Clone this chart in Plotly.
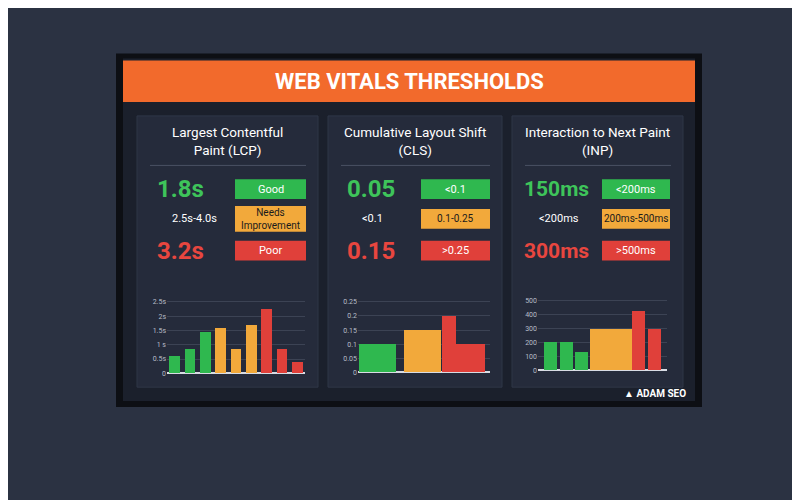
import plotly.graph_objects as go

W, H = 800, 500
OFF = 8  # page body margin

# bar chart data
lcp_vals = [0.6, 0.85, 1.45, 1.6, 0.85, 1.7, 2.25, 0.85, 0.4]
lcp_cols = ["g", "g", "g", "o", "o", "o", "r", "r", "r"]
cls_vals = [0.1, 0.15, 0.2, 0.1]
cls_cols = ["g", "o", "r", "r"]
inp_vals = [200, 200, 135, 300, 425, 300]
inp_cols = ["g", "g", "g", "o", "r", "r"]

# threshold rows
lcp_rows = ["1.8s", "2.5s-4.0s", "3.2s"]
lcp_badges = ["Good", "Needs<br>Improvement", "Poor"]
cls_rows = ["0.05", "<0.1", "0.15"]
cls_badges = ["<0.1", "0.1-0.25", ">0.25"]
inp_rows = ["150ms", "<200ms", "300ms"]
inp_badges = ["<200ms", "200ms-500ms", ">500ms"]

COL = {"g": "#2fb84f", "o": "#f2a93b", "r": "#e0403a"}
TXT = {"g": "#3ec45a", "o": "#ffffff", "r": "#e8463f"}


def px(x):
    return (x - OFF) / W


def py(y):
    return 1 - (y - OFF) / H


fig = go.Figure()
shapes = []
ann = []


def rect(x0, y0, x1, y1, color, line=None, lw=0):
    shapes.append(dict(type="rect", xref="paper", yref="paper",
                       x0=px(x0), x1=px(x1), y0=py(y1), y1=py(y0),
                       fillcolor=color, line=dict(color=line or color, width=lw),
                       layer="below"))


def text(x, y, s, size, color="#ffffff", anchor="center", bold=False, family="Roboto"):
    if bold:
        s = "<b>" + s + "</b>"
    ann.append(dict(x=px(x), y=py(y), xref="paper", yref="paper", text=s,
                    showarrow=False, xanchor=anchor, yanchor="middle",
                    font=dict(size=size, color=color, family=family)))


# wall + monitor
rect(0, 0, 820, 520, "#2b3242")
rect(116, 53, 702, 410, "#0d0f14")
rect(123, 58, 695, 404, "#1b202c")
rect(123, 60, 695, 102, "#f26a2c")
text(409, 81, "WEB VITALS THRESHOLDS", 22, "#ffffff", bold=True)

panels = [(137, 318), (328, 502), (512, 683)]
titles = ["Largest Contentful<br>Paint (LCP)", "Cumulative Layout Shift<br>(CLS)",
          "Interaction to Next Paint<br>(INP)"]
rows = [lcp_rows, cls_rows, inp_rows]
badges = [lcp_badges, cls_badges, inp_badges]
badge_x = [(235, 306), (421, 490), (602, 670)]
val_x = [155, 345, 522]
val_size = [24, 24, 21]
keys = ["g", "o", "r"]
row_y = [190, 220, 252]

for i, (x0, x1) in enumerate(panels):
    shapes.append(dict(type="rect", xref="paper", yref="paper",
                       x0=px(x0), x1=px(x1), y0=py(390), y1=py(116),
                       fillcolor="#252b3b", line=dict(color="#2f3647", width=1),
                       layer="below"))
    text((x0 + x1) / 2, 141, titles[i], 13.5)
    shapes.append(dict(type="line", xref="paper", yref="paper",
                       x0=px(x0 + 13), x1=px(x1 - 12), y0=py(166), y1=py(166),
                       line=dict(color="#4a5163", width=1)))
    bx0, bx1 = badge_x[i]
    for j, k in enumerate(keys):
        hgt = 13 if j == 1 and i == 0 else 10
        rect(bx0, row_y[j] - hgt, bx1, row_y[j] + hgt, COL[k])
        tc = "#1b1b1b" if k == "o" else "#ffffff"
        text((bx0 + bx1) / 2, row_y[j], badges[i][j], 10 if j == 1 else 11, tc)
        if j == 1:
            text(val_x[i] + 15, row_y[j], rows[i][j], 11, "#ffffff", anchor="left")
        else:
            text(val_x[i], row_y[j], rows[i][j], val_size[i], TXT[k], anchor="left", bold=True)

text(655, 396, "▲ ADAM SEO", 10, "#ffffff", bold=True)

# bar charts
charts = [
    (lcp_vals, lcp_cols, (167, 305), (301, 376), [0, 2.6],
     [0, 0.5, 1, 1.5, 2, 2.5], ["0", "0.5s", "1 s", "1.5s", "2s", "2.5s"]),
    (cls_vals, cls_cols, (358, 490), (301, 375), [0, 0.26],
     [0, 0.05, 0.1, 0.15, 0.2, 0.25], ["0", "0.05", "0.1", "0.15", "0.2", "0.25"]),
    (inp_vals, inp_cols, (538, 667), (300, 373), [0, 520],
     [0, 100, 200, 300, 400, 500], ["0", "100", "200", "300", "400", "500"]),
]
# bar layouts (positions/widths)
layouts = [
    ([i for i in range(9)], [0.7] * 9, [-0.5, 8.5]),
    ([0.5, 1.65, 2.35, 2.9], [0.95, 0.95, 0.35, 0.75], [0, 3.4]),
    ([0.2, 0.8, 1.4, 2.55, 3.6, 4.2], [0.5, 0.5, 0.5, 1.7, 0.5, 0.5], [-0.3, 4.7]),
]

layout_axes = {}
for n, (vals, cols, (xa, xb), (ya, yb), yr, tv, tt) in enumerate(charts):
    xs, ws, xr = layouts[n]
    sfx = "" if n == 0 else str(n + 1)
    fig.add_trace(go.Bar(x=xs, y=vals, width=ws,
                         marker=dict(color=[COL[c] for c in cols], line=dict(width=0)),
                         xaxis="x" + sfx, yaxis="y" + sfx, showlegend=False))
    layout_axes["xaxis" + sfx] = dict(domain=[px(xa), px(xb)], range=xr, visible=False,
                                      anchor="y" + sfx)
    layout_axes["yaxis" + sfx] = dict(domain=[py(yb), py(ya)], range=yr, anchor="x" + sfx,
                                      tickvals=tv, ticktext=tt, gridcolor="#3c4354",
                                      gridwidth=1, zeroline=True, zerolinecolor="#d8dce4",
                                      zerolinewidth=2, ticks="",
                                      tickfont=dict(size=7, color="#b8bdc8", family="Roboto"))

fig.update_layout(width=W, height=H, margin=dict(l=0, r=0, t=0, b=0),
                  paper_bgcolor="#2b3242", plot_bgcolor="rgba(0,0,0,0)",
                  shapes=shapes, annotations=ann, bargap=0, **layout_axes)
fig.write_html("out.html")
